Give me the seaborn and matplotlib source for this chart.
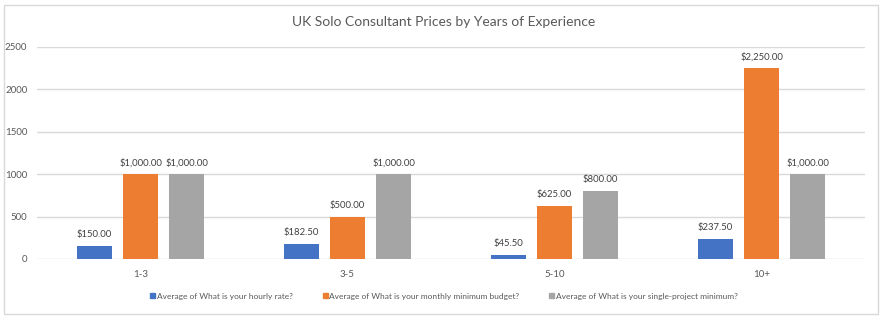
import matplotlib
matplotlib.use("Agg")
import matplotlib.pyplot as plt
import seaborn as sns
import pandas as pd
from matplotlib.patches import Rectangle

categories = ["1-3", "3-5", "5-10", "10+"]
series_names = [
    "Average of What is your hourly rate?",
    "Average of What is your monthly minimum budget?",
    "Average of What is your single-project minimum?",
]
hourly = [150.00, 182.50, 45.50, 237.50]
monthly = [1000.00, 500.00, 625.00, 2250.00]
single = [1000.00, 1000.00, 800.00, 1000.00]
colors = ["#4472C4", "#ED7D31", "#A5A5A5"]
yticks = [0, 500, 1000, 1500, 2000, 2500]

rows = []
for name, vals in zip(series_names, [hourly, monthly, single]):
    for c, v in zip(categories, vals):
        rows.append({"Experience": c, "Series": name, "Value": v})
df = pd.DataFrame(rows)

sns.set_theme(style="white")
plt.rcParams["font.family"] = ["Lato", "DejaVu Sans"]

fig = plt.figure(figsize=(8.88, 3.21), dpi=100)
ax = fig.add_axes([37 / 888, 1 - 259 / 321, (865 - 37) / 888, (259 - 47) / 321])

sns.barplot(data=df, x="Experience", y="Value", hue="Series", order=categories,
            hue_order=series_names, palette=colors, width=0.667, gap=0.22,
            saturation=1, errorbar=None, ax=ax, legend=False, linewidth=0)

ax.set_ylim(0, 2500)
ax.set_xlim(-0.5, 3.5)
ax.set_yticks(yticks)
ax.set_yticklabels([str(t) for t in yticks])
ax.grid(axis="y", color="#D9D9D9", linewidth=1)
ax.set_axisbelow(True)
for s in ax.spines.values():
    s.set_visible(False)
ax.set_xlabel("")
ax.set_ylabel("")
ax.tick_params(axis="both", length=0, labelsize=7, colors="#595959", pad=7)
ax.tick_params(axis="x", pad=8)

for cont in ax.containers:
    labels = [f"${b.get_height():,.2f}" for b in cont]
    ax.bar_label(cont, labels=labels, padding=5, fontsize=6.8, color="#404040")

fig.text(0.5, 1 - 22 / 321, "UK Solo Consultant Prices by Years of Experience",
         ha="center", va="center", fontsize=10, color="#595959")

handles = [Rectangle((0, 0), 1, 1, color=c) for c in colors]
fig.legend(handles, series_names, loc="center", bbox_to_anchor=(0.5, 1 - 296 / 321),
           ncol=3, frameon=False, fontsize=6, labelcolor="#595959",
           handlelength=0.6, handleheight=0.6, handletextpad=0.2, columnspacing=3.6)

fig.patches.append(Rectangle((4 / 888, 1 - 314 / 321), 874 / 888, 309 / 321,
                             transform=fig.transFigure, fill=False,
                             edgecolor="#D9D9D9", linewidth=1))

fig.savefig("out.png", dpi=100)
